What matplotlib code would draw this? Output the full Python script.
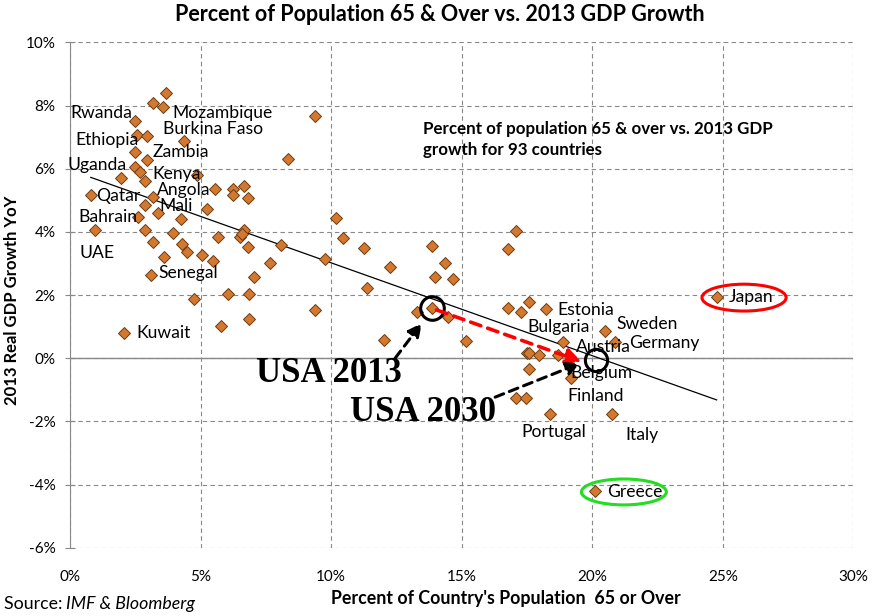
import matplotlib
matplotlib.use('Agg')
import matplotlib.pyplot as plt
from matplotlib.patches import Ellipse
from matplotlib.ticker import FuncFormatter
import numpy as np

plt.rcParams['font.family'] = ['Lato', 'DejaVu Sans']

# % of population 65+ (x) vs 2013 real GDP growth (y)
pop65 = [3.69, 3.19, 3.58, 2.48, 2.58, 2.96, 4.37, 2.48, 2.96, 2.48,
         2.68, 1.97, 2.89, 4.85, 0.80, 3.19, 2.89, 3.37, 2.60, 4.24,
         5.24, 5.56, 6.26, 6.68, 6.26, 6.81, 0.95, 2.89, 3.96, 3.19,
         4.28, 6.68, 6.51, 6.81, 5.68, 8.07, 3.60, 4.47, 5.07, 5.49,
         7.66, 3.09, 7.06, 6.06, 6.86, 4.75, 6.86, 5.78, 2.08, 9.40,
         8.36, 10.19, 10.47, 11.26, 13.85, 16.78, 17.08, 9.77, 12.26, 14.36,
         13.98, 14.68, 11.36, 9.38, 13.28, 13.87, 14.49, 16.77, 17.27, 17.58,
         12.04, 15.18, 18.21, 24.76, 20.50, 20.87, 18.88, 17.50, 17.59, 17.97,
         18.70, 17.59, 19.18, 17.09, 17.48, 18.39, 20.75, 20.10, 6.58]
gdp13 = [8.40, 8.08, 7.96, 7.52, 7.07, 7.03, 6.88, 6.54, 6.28, 6.06,
         5.91, 5.70, 5.61, 5.80, 5.17, 5.11, 4.85, 4.59, 4.48, 4.40,
         4.72, 5.36, 5.36, 5.44, 5.17, 5.06, 4.07, 4.05, 3.96, 3.67,
         3.61, 4.05, 3.85, 3.52, 3.83, 3.58, 3.20, 3.35, 3.27, 3.07,
         3.01, 2.63, 2.56, 2.03, 2.03, 1.87, 1.24, 1.02, 0.81, 7.67,
         6.30, 4.43, 3.80, 3.48, 3.55, 3.45, 4.03, 3.13, 2.90, 3.01,
         2.56, 2.50, 2.22, 1.52, 1.48, 1.58, 1.32, 1.60, 1.45, 1.77,
         0.59, 0.55, 1.56, 1.95, 0.85, 0.53, 0.51, 0.18, 0.18, 0.10,
         0.09, -0.35, -0.63, -1.27, -1.27, -1.77, -1.77, -4.20, 3.92]

# country labels (name, x, y) as placed on the chart
countries = [("Rwanda", 0.00, 7.75), ("Mozambique", 3.94, 7.75), ("Burkina Faso", 3.58, 7.25),
             ("Ethiopia", 0.20, 6.91), ("Zambia", 3.17, 6.54), ("Uganda", -0.10, 6.12),
             ("Kenya", 3.17, 5.82), ("Angola", 3.35, 5.33), ("Qatar", 1.00, 5.15),
             ("Mali", 3.42, 4.82), ("Bahrain", 0.32, 4.48), ("UAE", 0.36, 3.32),
             ("Senegal", 3.38, 2.69), ("Kuwait", 2.56, 0.79), ("Estonia", 18.66, 1.53),
             ("Bulgaria", 17.51, 1.00), ("Sweden", 20.93, 1.08), ("Austria", 19.38, 0.37),
             ("Germany", 21.42, 0.47), ("Belgium", 19.17, -0.46), ("Finland", 19.06, -1.18),
             ("Portugal", 17.30, -2.32), ("Italy", 21.25, -2.43), ("Japan", 25.21, 1.93),
             ("Greece", 20.57, -4.24)]

usa_2013 = (13.87, 1.58)
usa_2030 = (20.14, -0.05)

fig = plt.figure(figsize=(8.76, 6.16), dpi=100)
ax = fig.add_axes([0.0798, 0.1106, 0.8945, 0.8207])

ax.set_xlim(0, 30)
ax.set_ylim(-6, 10)
ax.set_xticks(np.arange(0, 31, 5))
ax.set_yticks(np.arange(-6, 11, 2))
pct = FuncFormatter(lambda v, p: f'{v:.0f}%')
ax.xaxis.set_major_formatter(pct)
ax.yaxis.set_major_formatter(pct)
ax.tick_params(axis='x', length=0, pad=16, labelsize=11, colors='black')
ax.tick_params(axis='y', direction='inout', length=7, pad=7, labelsize=11,
               color='#888888', labelcolor='black')

for s in ['top', 'right', 'bottom']:
    ax.spines[s].set_visible(False)
ax.spines['left'].set_color('#888888')
ax.grid(True, color='#888888', linestyle=(0, (4, 3)), linewidth=0.8)
ax.set_axisbelow(True)
ax.axhline(0, color='#888888', linewidth=1.0, zorder=1)

# linear trend line across the data range
coef = np.polyfit(pop65, gdp13, 1)
tx = np.array([min(pop65), max(pop65)])
ax.plot(tx, np.polyval(coef, tx), color='black', linewidth=0.9, zorder=2)

ax.plot(pop65, gdp13, 'D', markersize=6.5, markerfacecolor='#D3782F',
        markeredgecolor='#6E3B12', markeredgewidth=0.7, linestyle='none', zorder=3)

for name, lx, ly in countries:
    ax.text(lx, ly, name, fontsize=12.6, ha='left', va='center', zorder=4)

ax.text(13.51, 6.92, 'Percent of population 65 & over vs. 2013 GDP\ngrowth for 93 countries',
        fontsize=12.2, fontweight='bold', ha='left', va='center', linespacing=1.35)

# highlight circles/ellipses
ax.add_patch(Ellipse((25.81, 1.92), 3.22, 0.85, fill=False, edgecolor='red', linewidth=2.2, zorder=5))
ax.add_patch(Ellipse((21.21, -4.23), 3.25, 0.82, fill=False, edgecolor='#22DD22', linewidth=2.2, zorder=5))
ax.plot(*usa_2013, 'o', markersize=17, markerfacecolor='none', markeredgecolor='black',
        markeredgewidth=2.2, zorder=6)
ax.plot(*usa_2030, 'o', markersize=16, markerfacecolor='none', markeredgecolor='black',
        markeredgewidth=2.2, zorder=6)

ax.annotate('', xy=(19.59, -0.11), xytext=(14.04, 1.53),
            arrowprops=dict(arrowstyle='-|>,head_length=0.9,head_width=0.45', color='red',
                            linestyle=(0, (3, 2)), linewidth=2.6, shrinkA=0, shrinkB=0), zorder=6)
ax.annotate('', xy=(13.47, 1.11), xytext=(12.45, 0.0),
            arrowprops=dict(arrowstyle='-|>,head_length=0.8,head_width=0.4', color='black',
                            linestyle=(0, (3, 2)), linewidth=2.2, shrinkA=0, shrinkB=0), zorder=6)
ax.annotate('', xy=(19.53, -0.16), xytext=(16.28, -1.23),
            arrowprops=dict(arrowstyle='-|>,head_length=0.8,head_width=0.4', color='black',
                            linestyle=(0, (3, 2)), linewidth=2.2, shrinkA=0, shrinkB=0), zorder=6)

ax.text(9.93, -0.47, 'USA 2013', fontsize=25, fontweight='bold', family='Liberation Serif',
        ha='center', va='center', zorder=6)
ax.text(13.5, -1.73, 'USA 2030', fontsize=25, fontweight='bold', family='Liberation Serif',
        ha='center', va='center', zorder=6)

fig.text(0.502, 0.977, 'Percent of Population 65 & Over vs. 2013 GDP Growth',
         fontsize=15.5, fontweight='bold', ha='center', va='center')
fig.text(0.014, 0.513, '2013 Real GDP Growth YoY', fontsize=12, fontweight='bold',
         rotation=90, ha='center', va='center')
fig.text(0.577, 0.029, "Percent of Country's Population  65 or Over", fontsize=12.8,
         fontweight='bold', ha='center', va='center')
fig.text(0.004, 0.019, 'Source: ', fontsize=12.8, ha='left', va='center')
fig.text(0.075, 0.019, 'IMF & Bloomberg', fontsize=12.8, style='italic', ha='left', va='center')

fig.savefig('out.png', dpi=100)
